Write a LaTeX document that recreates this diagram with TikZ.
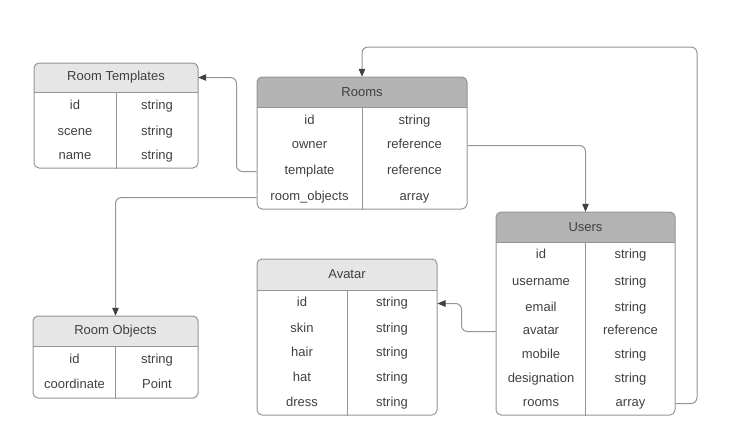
\documentclass[tikz,border=0pt]{standalone}
\usepackage{fontspec}
\setmainfont{Liberation Sans}
\usetikzlibrary{arrows.meta}
\definecolor{linegray}{HTML}{959595}
\definecolor{txtgray}{HTML}{404040}
\definecolor{hdlight}{HTML}{E6E6E6}
\definecolor{hddark}{HTML}{B3B3B3}
\tikzset{
  frame/.style={draw=linegray, line width=1pt, rounded corners=5pt, inner sep=0pt},
  hdr/.style={rounded corners=5pt, inner sep=0pt, text=txtgray},
  cell/.style={text=txtgray, inner sep=0pt, text height=9pt, text depth=3pt, yshift=-1.5pt},
  sep/.style={draw=linegray, line width=1pt},
  link/.style={draw=linegray, line width=1pt, rounded corners=6pt,
    -{Triangle[length=8pt,width=6.5pt,color=txtgray]}}
}
\begin{document}
\begin{tikzpicture}[x=1pt, y=-1pt, font=\fontsize{13}{15}\selectfont]
\useasboundingbox (0,0) rectangle (745,445);

% Room Templates
\node[hdr, fill=hdlight, minimum width=164pt, minimum height=29pt] (tmplh) at (116,77.5) {Room Templates};
\fill[hdlight] (tmplh.south west) rectangle ([yshift=6pt]tmplh.south east);
\node[frame, minimum width=164pt, minimum height=105pt] (tmpl) at (116,115.5) {};
\draw[sep] (tmplh.south west) -- (tmplh.south east) (tmplh.south) -- (tmpl.south);
\foreach \n/\t/\y [count=\i] in {id/string/105, scene/string/131, name/string/155}
{
   \node[cell] (tmpl-\i) at (75,\y) {\n};
   \node[cell] (tmpl-\i-t) at (157,\y) {\t};
}

% Rooms
\node[hdr, fill=hddark, minimum width=210pt, minimum height=30pt] (roomsh) at (362,92) {Rooms};
\fill[hddark] (roomsh.south west) rectangle ([yshift=6pt]roomsh.south east);
\node[frame, minimum width=210pt, minimum height=132pt] (rooms) at (362,143) {};
\draw[sep] (roomsh.south west) -- (roomsh.south east) (roomsh.south) -- (rooms.south);
\foreach \n/\t/\y [count=\i] in {id/string/120, owner/reference/144, template/reference/170, room\_objects/array/196}
{
   \node[cell] (rooms-\i) at (309.5,\y) {\n};
   \node[cell] (rooms-\i-t) at (414.5,\y) {\t};
}

% Users
\node[hdr, fill=hddark, minimum width=179pt, minimum height=30pt] (usersh) at (585.5,227) {Users};
\fill[hddark] (usersh.south west) rectangle ([yshift=6pt]usersh.south east);
\node[frame, minimum width=179pt, minimum height=203pt] (users) at (585.5,313.5) {};
\draw[sep] (usersh.south west) -- (usersh.south east) (usersh.south) -- (users.south);
\foreach \n/\t/\y [count=\i] in {id/string/254, username/string/281, email/string/307, avatar/reference/330, mobile/string/354, designation/string/378, rooms/array/402}
{
   \node[cell] (users-\i) at (541,\y) {\n};
   \node[cell] (users-\i-t) at (630.5,\y) {\t};
}

% Avatar
\node[hdr, fill=hdlight, minimum width=180pt, minimum height=31pt] (avatarh) at (347,274.5) {Avatar};
\fill[hdlight] (avatarh.south west) rectangle ([yshift=6pt]avatarh.south east);
\node[frame, minimum width=180pt, minimum height=156pt] (avatar) at (347,337) {};
\draw[sep] (avatarh.south west) -- (avatarh.south east) (avatarh.south) -- (avatar.south);
\foreach \n/\t/\y [count=\i] in {id/string/302, skin/string/328, hair/string/352, hat/string/377, dress/string/402}
{
   \node[cell] (avatar-\i) at (302,\y) {\n};
   \node[cell] (avatar-\i-t) at (392,\y) {\t};
}

% Room Objects
\node[hdr, fill=hdlight, minimum width=165pt, minimum height=30pt] (objh) at (115.5,331) {Room Objects};
\fill[hdlight] (objh.south west) rectangle ([yshift=6pt]objh.south east);
\node[frame, minimum width=165pt, minimum height=82pt] (obj) at (115.5,357) {};
\draw[sep] (objh.south west) -- (objh.south east) (objh.south) -- (obj.south);
\foreach \n/\t/\y [count=\i] in {id/string/359, coordinate/Point/384}
{
   \node[cell] (obj-\i) at (74.5,\y) {\n};
   \node[cell] (obj-\i-t) at (157,\y) {\t};
}

% links
\draw[link] (rooms.west |- rooms-3) -- ++(-20,0) |- (tmplh.east);
\draw[link] (rooms.west |- rooms-4) -| (objh.north);
\draw[link] (rooms.east |- rooms-2) -| (usersh.north);
\draw[link] (users.west |- users-4) -- ++(-34,0) |- (avatar.east |- avatar-1);
\coordinate (bend) at (697,47);
\draw[link] (users.east |- users-7) -| (bend) -| (roomsh.north);

\end{tikzpicture}
\end{document}
